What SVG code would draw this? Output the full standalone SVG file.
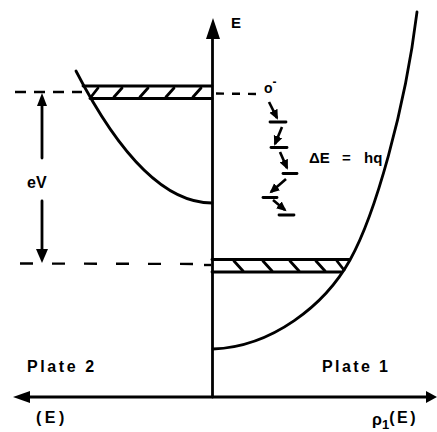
<svg xmlns="http://www.w3.org/2000/svg" width="437" height="432" viewBox="0 0 437 432">
<style>
.ln{stroke:#000;stroke-width:2.8;fill:none;stroke-linecap:round}
.th{stroke:#000;stroke-width:2.6;fill:none}
.dsh{stroke:#000;stroke-width:2.4;fill:none}
.lbl{font-family:"Liberation Sans",Arial,sans-serif;fill:#000;font-weight:bold}
</style>
<defs>
<marker id="ah" markerUnits="userSpaceOnUse" markerWidth="11" markerHeight="10" refX="8" refY="4.5" orient="auto" viewBox="0 0 11 9">
<path d="M0,0 L10,4.5 L0,9 Z" fill="#000"/>
</marker>
</defs>
<rect width="437" height="432" fill="#fff"/>
<g id="connectors">
<line class="dsh" x1="15" y1="92" x2="82" y2="92" stroke-dasharray="11 8"/>
<line class="dsh" x1="216" y1="93.5" x2="261" y2="94" stroke-dasharray="8 8"/>
<line class="dsh" x1="20" y1="263.5" x2="211" y2="264" stroke-dasharray="13 19"/>
<line class="dsh" x1="204" y1="265" x2="211" y2="265"/>
<line class="ln" x1="42" y1="102" x2="42" y2="158"/>
<line class="ln" x1="42" y1="201" x2="42" y2="252"/>
<polygon points="42,93 37,106 47,106" fill="#000"/>
<polygon points="42,263 36,249 48,249" fill="#000"/>
<line class="th" x1="269" y1="102" x2="277" y2="118" marker-end="url(#ah)"/>
<line class="ln" x1="270" y1="122" x2="286" y2="122"/>
<line class="th" x1="282" y1="127" x2="275" y2="144" marker-end="url(#ah)"/>
<line class="ln" x1="271" y1="147.5" x2="287" y2="147.5"/>
<line class="th" x1="280" y1="152" x2="287" y2="168" marker-end="url(#ah)"/>
<line class="ln" x1="283" y1="173.5" x2="297" y2="173.5"/>
<line class="th" x1="286" y1="179" x2="271" y2="192" marker-end="url(#ah)"/>
<line class="ln" x1="263" y1="197.5" x2="277" y2="197.5"/>
<line class="th" x1="273" y1="200" x2="285" y2="210" marker-end="url(#ah)"/>
<line class="ln" x1="279" y1="215" x2="294" y2="215"/>
</g>
<g id="axes">
<line class="ln" x1="212.5" y1="36" x2="212.5" y2="397"/>
<polygon points="213,18 206,39 220,39" fill="#000"/>
<line class="ln" x1="28" y1="397" x2="428" y2="397"/>
<polygon points="13,397 30,391 30,403" fill="#000"/>
<polygon points="437,397 426,391 426,403" fill="#000"/>
</g>
<g id="plate2">
<path class="ln" d="M76,71 Q144,203 212,203"/>
<line class="ln" x1="83" y1="86" x2="212" y2="86"/>
<line class="ln" x1="90" y1="98.5" x2="212" y2="98.5"/>
<g class="ln">
<line x1="91" y1="97" x2="98" y2="88"/>
<line x1="114" y1="97" x2="122" y2="88"/>
<line x1="140" y1="97" x2="148" y2="88"/>
<line x1="166" y1="97" x2="174" y2="88"/>
<line x1="193" y1="97" x2="201" y2="88"/>
</g>
</g>
<g id="plate1">
<path class="ln" d="M213,349 C272,347 325,305 350,260 C375,215 405,110 417,12"/>
<line class="ln" x1="212" y1="259.5" x2="349" y2="259.5"/>
<line class="ln" x1="212" y1="272" x2="341" y2="272"/>
<g class="ln">
<line x1="234" y1="261" x2="243" y2="271"/>
<line x1="263" y1="261" x2="272" y2="271"/>
<line x1="290" y1="261" x2="299" y2="271"/>
<line x1="316" y1="261" x2="325" y2="271"/>
<line x1="337" y1="261" x2="344" y2="270"/>
</g>
</g>
<g id="labels">
<text class="lbl" x="231" y="28" font-size="15">E</text>
<text class="lbl" x="264" y="93" font-size="14">o<tspan dy="-7" font-size="12">-</tspan></text>
<text class="lbl" x="27" y="188" font-size="16">eV</text>
<text class="lbl" font-size="15" y="163"><tspan x="309">ΔE</tspan><tspan x="342">=</tspan><tspan x="364">hq</tspan></text>
<text class="lbl" x="27" y="372" font-size="16" letter-spacing="2.6">Plate 2</text>
<text class="lbl" x="322" y="372" font-size="16" letter-spacing="2.4">Plate 1</text>
<text class="lbl" x="36" y="423" font-size="16" letter-spacing="3.5">(E)</text>
<text class="lbl" x="372" y="425" font-size="16">ρ<tspan font-size="13" dy="4">1</tspan><tspan dy="-6" letter-spacing="2.5">(E)</tspan></text>
</g>
</svg>
